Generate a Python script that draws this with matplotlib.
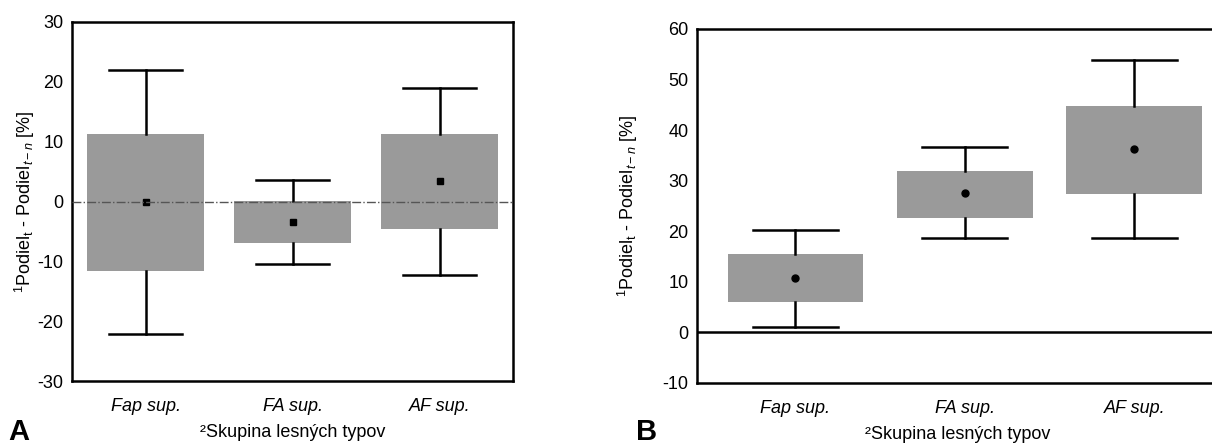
import numpy as np
import matplotlib
matplotlib.use('Agg')
import matplotlib.pyplot as plt

plt.rcParams['font.family'] = ['Liberation Sans', 'DejaVu Sans']
plt.rcParams['mathtext.fontset'] = 'custom'
plt.rcParams['mathtext.rm'] = 'Liberation Sans'
plt.rcParams['mathtext.it'] = 'Liberation Sans:italic'
plt.rcParams['axes.unicode_minus'] = False

categories = ['Fap sup.', 'FA sup.', 'AF sup.']

# panel A: box = q1..q3, whiskers = lo..hi, mean point
a_q1 = [-11.6, -6.9, -4.6]
a_q3 = [11.2, 0.1, 11.3]
a_lo = [-22.2, -10.4, -12.3]
a_hi = [22.0, 3.6, 19.0]
a_mean = [0.0, -3.4, 3.4]

# panel B
b_q1 = [6.0, 22.7, 27.3]
b_q3 = [15.5, 32.0, 44.8]
b_lo = [1.1, 18.7, 18.7]
b_hi = [20.2, 36.6, 53.9]
b_mean = [10.8, 27.5, 36.2]

ylab = r'$\mathregular{^1Podiel_t}$ - $\mathregular{Podiel_{\mathit{t-n}}}$ [%]'
xlab = '²Skupina lesných typov'
fs = 13


def makeStats(q1, q3, lo, hi, mean):
    '''
    USAGE: Build bxp stat dicts from the arrays.
    '''
    stats = []
    for i in range(len(q1)):
        stats.append({'q1': q1[i], 'q3': q3[i], 'med': mean[i], 'mean': mean[i],
                      'whislo': lo[i], 'whishi': hi[i], 'fliers': []})
    return stats


def drawPanel(ax, stats, marker, xlim, ylim, ticks):
    ax.bxp(stats, positions=range(len(stats)), widths=0.8, capwidths=0.5,
           patch_artist=True, showmeans=True, showfliers=False,
           boxprops=dict(facecolor='#9a9a9a', edgecolor='none'),
           whiskerprops=dict(color='black', lw=1.8),
           capprops=dict(color='black', lw=1.8),
           medianprops=dict(visible=False),
           meanprops=dict(marker=marker, markerfacecolor='black',
                          markeredgecolor='black', markersize=5))
    ax.set_xlim(xlim)
    ax.set_ylim(ylim)
    ax.set_yticks(ticks)
    ax.set_xticks(range(len(categories)))
    ax.set_xticklabels(categories, style='italic', fontsize=fs)
    ax.tick_params(axis='both', length=0, labelsize=fs, pad=6)
    ax.tick_params(axis='x', pad=12)
    ax.set_ylabel(ylab, fontsize=fs)
    ax.set_xlabel(xlab, fontsize=fs, labelpad=7)
    for s in ax.spines.values():
        s.set_linewidth(1.8)


fig = plt.figure(figsize=(12.12, 4.46), dpi=100)

axA = fig.add_axes([0.0594, 0.1457, 0.3639, 0.805])
drawPanel(axA, makeStats(a_q1, a_q3, a_lo, a_hi, a_mean), 's',
          (-0.5, 2.5), (-30, 30), np.arange(-30, 31, 10))
axA.axhline(0, color='#555555', lw=1.0, ls='-.', zorder=5)
axA.yaxis.set_label_coords(-0.08, 0.5)

axB = fig.add_axes([0.5751, 0.1413, 0.4307, 0.7937])
drawPanel(axB, makeStats(b_q1, b_q3, b_lo, b_hi, b_mean), 'o',
          (-0.58, 2.5), (-10, 60), np.arange(-10, 61, 10))
axB.axhline(0, color='black', lw=1.8, zorder=1)
axB.spines['right'].set_visible(False)
axB.yaxis.set_label_coords(-0.11, 0.5)

fig.text(0.007, 0.013, 'A', fontsize=21, fontweight='bold')
fig.text(0.525, 0.013, 'B', fontsize=21, fontweight='bold')

fig.savefig('out.png', dpi=100)
